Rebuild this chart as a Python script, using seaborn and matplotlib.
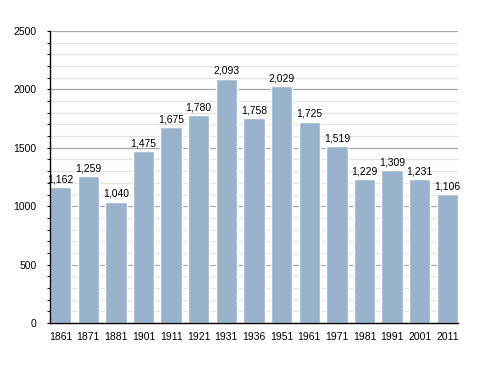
import numpy as np
import pandas as pd
import seaborn as sns
import matplotlib.pyplot as plt
from matplotlib.ticker import MultipleLocator

years = ["1861", "1871", "1881", "1901", "1911", "1921", "1931", "1936",
         "1951", "1961", "1971", "1981", "1991", "2001", "2011"]
population = [1162, 1259, 1040, 1475, 1675, 1780, 2093, 1758,
              2029, 1725, 1519, 1229, 1309, 1231, 1106]

df = pd.DataFrame({"year": years, "pop": population})

sns.set_style("white")
plt.rcParams["font.family"] = ["Liberation Sans", "DejaVu Sans"]

fig = plt.figure(figsize=(4.88, 3.73), dpi=100)
ax = fig.add_axes([50 / 488, 50 / 373, 408 / 488, 292 / 373])

# gridlines behind the bars
ax.set_axisbelow(True)
ax.yaxis.set_major_locator(MultipleLocator(500))
ax.yaxis.set_minor_locator(MultipleLocator(100))
ax.grid(True, which="major", axis="y", color="#a8a8a8", linewidth=0.9)
ax.grid(True, which="minor", axis="y", color="#e3e3e3", linewidth=0.9)

bar_w = 0.77
sns.barplot(data=df, x="year", y="pop", color="#9ab3cc", saturation=1,
            width=bar_w, ax=ax)

for i, v in enumerate(population):
    ax.text(i, v + 22, f"{v:,}", ha="center", va="bottom", fontsize=7.5,
            color="black")

ax.set_xlim(-bar_w / 2, len(years) - 1 + bar_w / 2)
ax.set_ylim(0, 2500)
ax.set_xlabel("")
ax.set_ylabel("")

sns.despine(ax=ax, top=True, right=True)
for side in ("left", "bottom"):
    ax.spines[side].set_color("black")
    ax.spines[side].set_linewidth(1)

ax.tick_params(axis="y", which="major", left=True, length=2.5, width=0.8,
               labelsize=7.5, pad=7, colors="black")
ax.tick_params(axis="y", which="minor", left=True, length=2.5, width=0.8)
ax.tick_params(axis="x", bottom=False, labelsize=7.5, pad=3, labelcolor="black")

fig.savefig("out.png", dpi=100)
